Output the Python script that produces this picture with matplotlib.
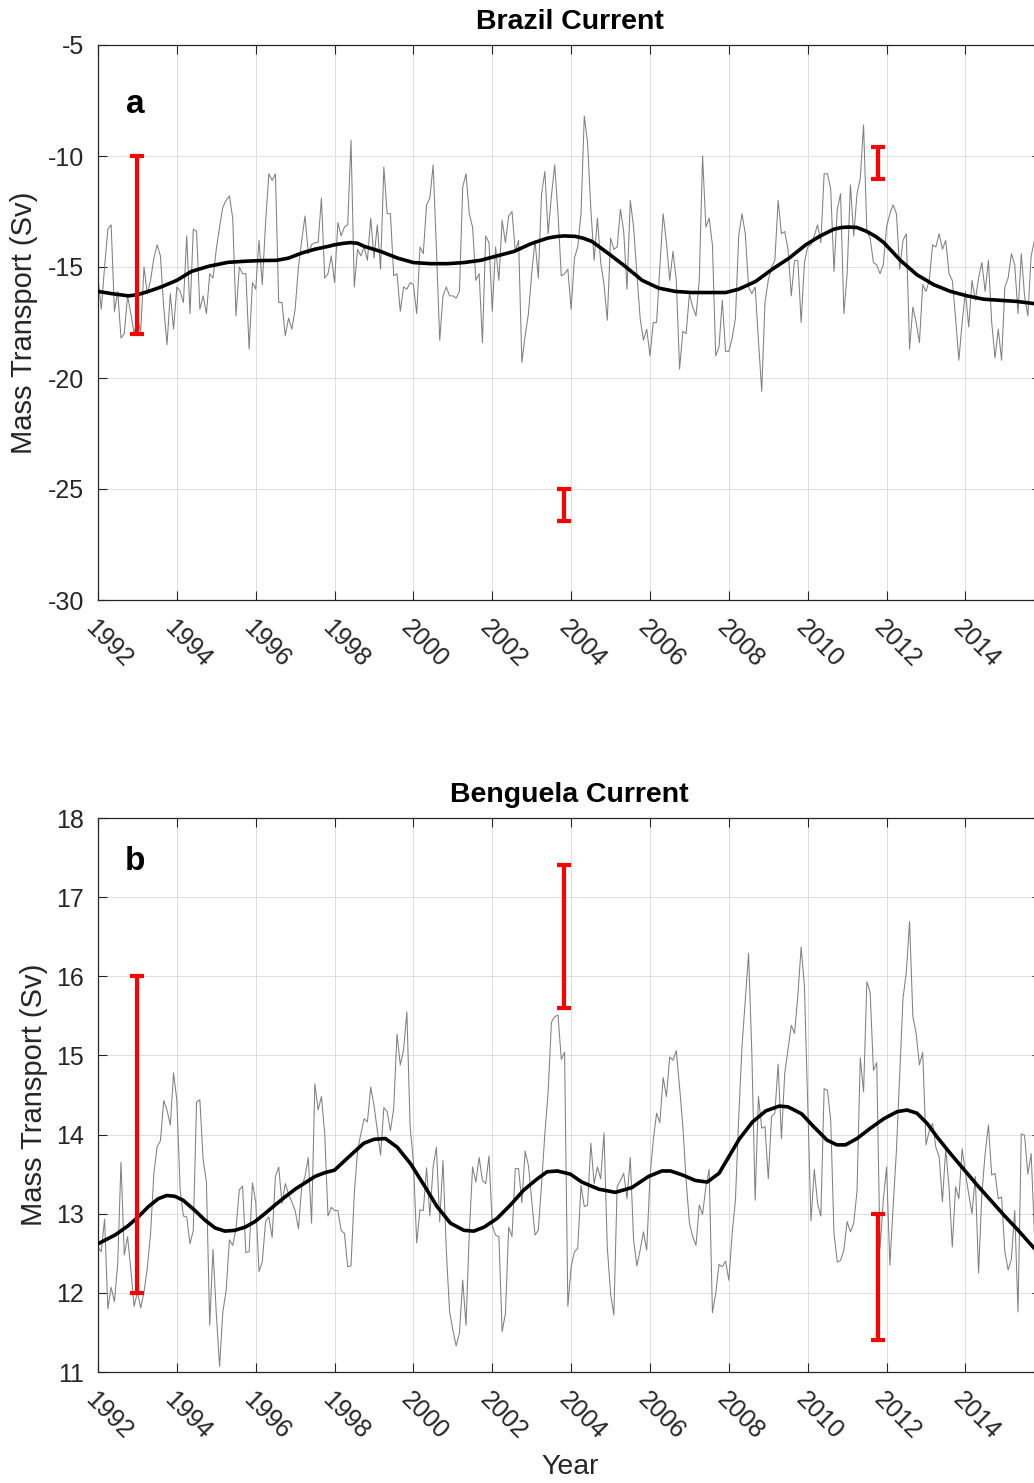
import numpy as np
import matplotlib
matplotlib.use('Agg')
import matplotlib.pyplot as plt

plt.rcParams['font.family'] = ['Liberation Sans', 'DejaVu Sans']

# ---------------- data ----------------
start_year = 1992
n_months = 288

brazil_monthly = [
    -15.5, -16.9, -15.0, -13.3, -13.1, -17.0, -16.1, -18.2, -18.0, -16.3, -17.1, -18.0,
    -17.3, -17.9, -15.0, -16.2, -15.6, -14.6, -14.0, -14.5, -16.8, -18.5, -16.2, -17.8,
    -15.9, -16.1, -16.6, -13.6, -17.1, -13.3, -13.4, -16.9, -16.3, -17.1, -15.3, -15.5,
    -14.2, -13.2, -12.3, -12.0, -11.8, -12.8, -17.2, -15.0, -15.3, -15.3, -18.7, -15.7,
    -16.0, -13.8, -15.8, -13.0, -10.8, -11.1, -10.8, -16.6, -16.6, -18.1, -17.3, -17.8,
    -16.9, -15.0, -13.8, -12.7, -14.4, -14.0, -13.9, -13.9, -11.9, -15.5, -15.3, -14.5,
    -15.7, -13.0, -13.6, -13.2, -13.1, -9.3, -15.9, -14.2, -14.5, -14.1, -14.7, -12.8,
    -14.6, -13.1, -15.1, -10.5, -12.6, -12.6, -15.4, -15.3, -17.0, -15.9, -16.0, -15.7,
    -15.8, -17.1, -14.1, -14.4, -12.2, -11.9, -10.4, -14.2, -18.3, -16.3, -15.9, -16.3,
    -16.3, -16.4, -16.1, -11.4, -10.8, -12.6, -13.2, -15.6, -15.3, -18.4, -13.6, -13.9,
    -17.0, -14.1, -15.6, -12.9, -13.9, -12.7, -12.5, -14.3, -13.8, -19.3, -18.1, -17.1,
    -15.3, -13.8, -15.5, -11.7, -10.7, -13.5, -11.8, -10.4, -12.6, -15.4, -15.3, -15.1,
    -16.9, -14.6, -14.1, -12.6, -8.2, -9.4, -12.4, -14.7, -12.8, -14.8, -15.8, -17.4,
    -13.7, -14.2, -14.1, -12.4, -13.4, -16.0, -12.0, -13.2, -15.3, -17.3, -18.3, -17.8,
    -19.0, -17.5, -17.5, -15.0, -12.6, -13.9, -15.6, -14.3, -15.6, -19.6, -17.9, -18.0,
    -16.2, -16.8, -17.2, -15.6, -10.0, -13.2, -12.8, -14.0, -19.0, -18.6, -16.5, -18.8,
    -18.8, -18.2, -17.3, -13.6, -12.6, -13.5, -15.9, -16.2, -15.9, -18.3, -20.6, -16.6,
    -15.6, -15.0, -14.7, -12.0, -13.5, -13.4, -14.2, -16.3, -14.7, -14.7, -17.5, -14.8,
    -14.1, -14.0, -13.6, -13.1, -13.9, -10.8, -10.8, -11.5, -15.2, -12.4, -11.7, -17.1,
    -15.3, -11.3, -13.6, -11.7, -11.0, -8.6, -13.4, -13.7, -14.8, -14.9, -15.3, -14.9,
    -13.2, -12.6, -12.2, -12.6, -15.1, -13.8, -13.5, -18.7, -16.8, -17.5, -18.4, -15.8,
    -16.1, -15.6, -14.0, -14.1, -13.5, -14.2, -13.8, -15.3, -15.6, -17.3, -19.2, -17.5,
    -16.1, -17.7, -15.6, -16.5, -15.5, -14.8, -16.1, -14.7, -17.5, -19.1, -17.8, -19.2,
    -15.9, -15.5, -14.4, -14.9, -17.1, -14.4, -16.3, -17.2, -14.5, -13.8, -14.2, -15.0,
]

benguela_monthly = [
    12.58, 12.52, 12.93, 11.80, 12.07, 11.89, 12.37, 13.65, 12.48, 12.71, 12.29, 11.83,
    12.01, 11.81, 12.01, 12.31, 12.75, 13.51, 13.85, 13.92, 14.43, 14.31, 14.12, 14.78,
    14.43, 13.30, 12.97, 12.96, 12.62, 12.79, 14.41, 14.44, 13.68, 13.40, 11.59, 12.55,
    11.74, 11.07, 11.76, 12.03, 12.67, 12.60, 12.81, 13.30, 13.35, 12.51, 12.52, 13.39,
    13.15, 12.27, 12.39, 12.90, 12.96, 12.70, 13.47, 13.59, 13.13, 13.38, 13.25, 13.15,
    13.04, 12.81, 13.34, 13.47, 13.71, 12.88, 14.64, 14.31, 14.48, 14.01, 12.97, 13.08,
    13.04, 13.04, 12.79, 12.75, 12.33, 12.34, 13.25, 13.80, 14.01, 14.20, 14.16, 14.60,
    14.37, 14.05, 13.74, 14.34, 14.29, 14.05, 14.33, 15.27, 14.88, 15.07, 15.55, 14.10,
    13.65, 12.63, 13.05, 13.04, 13.58, 12.97, 13.59, 13.84, 12.90, 13.67, 12.54, 11.76,
    11.53, 11.33, 11.49, 12.16, 11.59, 12.75, 13.59, 13.40, 13.71, 13.42, 13.38, 13.73,
    12.85, 12.73, 12.71, 11.51, 11.74, 12.83, 12.71, 13.57, 13.57, 13.14, 13.79, 13.61,
    13.17, 12.73, 12.79, 13.38, 14.01, 14.54, 15.42, 15.49, 15.51, 14.95, 15.04, 11.83,
    12.33, 12.52, 12.56, 13.36, 13.09, 13.11, 13.89, 13.38, 13.59, 13.44, 14.02, 12.58,
    11.99, 11.72, 13.34, 13.42, 13.51, 13.19, 13.71, 12.67, 12.34, 12.54, 12.77, 12.54,
    13.47, 13.93, 14.27, 14.15, 14.72, 14.48, 14.98, 14.94, 15.06, 14.60, 14.10, 13.42,
    12.88, 12.71, 12.60, 13.11, 12.99, 13.34, 13.56, 11.75, 11.99, 12.36, 12.33, 12.40,
    12.16, 12.75, 13.17, 14.22, 15.11, 15.70, 16.29, 15.02, 13.17, 14.48, 14.08, 14.10,
    13.44, 14.23, 14.27, 14.89, 13.95, 14.77, 15.07, 15.38, 15.28, 15.76, 16.37, 15.87,
    14.40, 12.91, 13.56, 13.13, 12.97, 14.58, 14.56, 14.18, 12.75, 12.39, 12.41, 12.54,
    12.90, 12.77, 12.88, 13.28, 14.97, 14.54, 15.93, 15.80, 14.81, 14.91, 12.56, 13.17,
    13.59, 12.35, 13.09, 13.80, 14.77, 15.72, 16.05, 16.69, 15.49, 15.28, 14.88, 15.04,
    13.87, 14.05, 14.14, 13.84, 13.72, 13.15, 13.82, 13.34, 12.58, 13.34, 13.19, 13.82,
    13.51, 13.25, 13.00, 13.47, 12.25, 13.25, 13.76, 14.12, 13.49, 13.51, 13.19, 13.21,
    12.52, 12.29, 12.43, 13.04, 11.76, 14.01, 13.99, 13.50, 13.76, 12.75, 13.10, 12.90,
]

brazil_smooth_t = [1992.0, 1992.35, 1992.77, 1993.0, 1993.28, 1993.6, 1994.0, 1994.37,
                   1994.8, 1995.3, 1995.73, 1996.15, 1996.53, 1996.83, 1997.17, 1997.5,
                   1997.84, 1998.0, 1998.2, 1998.4, 1998.58, 1998.75, 1999.17, 1999.6,
                   2000.0, 2000.43, 2000.86, 2001.28, 2001.7, 2002.12, 2002.55, 2002.97,
                   2003.2, 2003.4, 2003.62, 2003.82, 2004.1, 2004.3, 2004.53, 2004.95,
                   2005.37, 2005.8, 2006.22, 2006.64, 2007.06, 2007.5, 2007.92, 2008.25,
                   2008.68, 2009.1, 2009.53, 2009.95, 2010.32, 2010.66, 2010.86, 2011.04,
                   2011.25, 2011.5, 2011.72, 2011.93, 2012.35, 2012.77, 2013.2, 2013.62,
                   2014.04, 2014.46, 2014.88, 2015.3, 2015.75, 2015.92]
brazil_smooth = [-16.1, -16.2, -16.3, -16.25, -16.1, -15.9, -15.6, -15.2,
                 -14.97, -14.79, -14.74, -14.71, -14.7, -14.6, -14.37, -14.2,
                 -14.07, -14.0, -13.94, -13.9, -13.93, -14.07, -14.3, -14.6,
                 -14.8, -14.85, -14.85, -14.8, -14.7, -14.5, -14.3, -13.96,
                 -13.82, -13.7, -13.63, -13.6, -13.62, -13.7, -13.85, -14.4,
                 -14.97, -15.6, -15.95, -16.1, -16.15, -16.15, -16.15, -16.0,
                 -15.65, -15.1, -14.6, -14.0, -13.6, -13.3, -13.22, -13.2,
                 -13.22, -13.4, -13.62, -13.9, -14.7, -15.35, -15.8, -16.1,
                 -16.3, -16.45, -16.5, -16.55, -16.65, -16.7]

benguela_smooth_t = [1992.0, 1992.43, 1992.77, 1993.02, 1993.28, 1993.53, 1993.74, 1993.95,
                     1994.16, 1994.46, 1994.71, 1994.97, 1995.22, 1995.47, 1995.73, 1995.98,
                     1996.23, 1996.49, 1996.74, 1997.0, 1997.25, 1997.5, 1997.76, 1998.0,
                     1998.32, 1998.74, 1999.0, 1999.29, 1999.59, 1999.93, 2000.27, 2000.6,
                     2000.94, 2001.28, 2001.53, 2001.79, 2002.12, 2002.46, 2002.8, 2003.14,
                     2003.39, 2003.65, 2003.98, 2004.27, 2004.7, 2005.12, 2005.54, 2005.96,
                     2006.3, 2006.52, 2006.82, 2007.15, 2007.45, 2007.75, 2008.0, 2008.26,
                     2008.6, 2008.94, 2009.28, 2009.5, 2009.7, 2009.85, 2010.0, 2010.15,
                     2010.49, 2010.74, 2010.96, 2011.25, 2011.59, 2011.93, 2012.27, 2012.52,
                     2012.77, 2013.03, 2013.28, 2013.62, 2013.96, 2014.3, 2014.64, 2014.98,
                     2015.32, 2015.75, 2015.92]
benguela_smooth = [12.62, 12.73, 12.85, 12.96, 13.09, 13.19, 13.23, 13.22,
                   13.17, 13.04, 12.92, 12.82, 12.78, 12.79, 12.83, 12.90,
                   13.00, 13.11, 13.21, 13.31, 13.39, 13.47, 13.52, 13.55,
                   13.70, 13.89, 13.94, 13.95, 13.84, 13.63, 13.36, 13.09,
                   12.88, 12.79, 12.78, 12.83, 12.94, 13.11, 13.30, 13.44,
                   13.53, 13.54, 13.50, 13.40, 13.31, 13.27, 13.33, 13.47,
                   13.54, 13.54, 13.49, 13.42, 13.40, 13.51, 13.72, 13.94,
                   14.16, 14.30, 14.36, 14.35, 14.30, 14.26, 14.18, 14.10,
                   13.93, 13.87, 13.87, 13.95, 14.08, 14.20, 14.29, 14.31,
                   14.27, 14.14, 13.97, 13.76, 13.56, 13.36, 13.17, 12.98,
                   12.80, 12.56, 12.48]

err_x = [1993.0, 2003.83, 2011.77]
brazil_err_low = [-18.0, -26.43, -11.05]
brazil_err_high = [-10.0, -25.0, -9.6]
benguela_err_low = [12.0, 15.6, 11.4]
benguela_err_high = [16.0, 17.4, 13.0]

xtick_years = [1992, 1994, 1996, 1998, 2000, 2002, 2004, 2006, 2008, 2010, 2012, 2014]
brazil_yticks = [-30, -25, -20, -15, -10, -5]
benguela_yticks = [11, 12, 13, 14, 15, 16, 17, 18]

# ---------------- figure ----------------
W, H = 1034, 1483
fig = plt.figure(figsize=(W / 100, H / 100), dpi=100)
axA = fig.add_axes([98 / W, 1 - 600 / H, 943 / W, 555 / H])
axB = fig.add_axes([98 / W, 1 - 1372 / H, 943 / W, 554 / H])

t = start_year + np.arange(n_months) / 12.0
dark = '#262626'


def style(ax, yticks):
    ax.set_xlim(start_year, start_year + (n_months - 1) / 12.0)
    ax.set_ylim(yticks[0], yticks[-1])
    ax.set_xticks(xtick_years)
    ax.set_xticklabels([str(y) for y in xtick_years], rotation=-45, ha='left',
                       va='top', rotation_mode='anchor')
    ax.set_yticks(yticks)
    ax.set_yticklabels([str(v) for v in yticks])
    ax.tick_params(axis='both', direction='in', length=6.8, width=0.8, top=True,
                   right=True, labelsize=18, colors=dark)
    ax.tick_params(axis='x', pad=11)
    ax.tick_params(axis='y', pad=10)
    ax.grid(True, color='#dedede', linewidth=0.7)
    ax.set_axisbelow(True)
    for s in ax.spines.values():
        s.set_color(dark)
        s.set_linewidth(0.9)


def draw_err(ax, lows, highs):
    lows = np.array(lows)
    highs = np.array(highs)
    mid = (lows + highs) / 2
    half = (highs - lows) / 2
    ax.errorbar(err_x, mid, yerr=half, fmt='none', ecolor='#ff0000',
                elinewidth=3.0, capsize=4.8, capthick=3.0, zorder=5)


for ax, monthly, st, sv, yt, lo, hi in [
        (axA, brazil_monthly, brazil_smooth_t, brazil_smooth, brazil_yticks,
         brazil_err_low, brazil_err_high),
        (axB, benguela_monthly, benguela_smooth_t, benguela_smooth, benguela_yticks,
         benguela_err_low, benguela_err_high)]:
    ax.plot(t, monthly, color='#808080', linewidth=0.75, zorder=2)
    ax.plot(st, sv, color='black', linewidth=2.6, zorder=3, solid_joinstyle='round')
    draw_err(ax, lo, hi)
    style(ax, yt)
    ax.set_ylabel('Mass Transport (Sv)', fontsize=21, color=dark)

axA.yaxis.set_label_coords((38 - 98) / 943, 0.5)
axB.yaxis.set_label_coords((48 - 98) / 943, 0.5)

axA.text(0.5, 1 + 23 / 555, 'Brazil Current', transform=axA.transAxes,
         ha='center', va='center', fontsize=20.5, fontweight='bold', color='black')
axB.text(0.5, 1 + 23 / 554, 'Benguela Current', transform=axB.transAxes,
         ha='center', va='center', fontsize=20.5, fontweight='bold', color='black')

axA.text((135 - 98) / 943, 1 - (112.7 - 45) / 555, 'a', transform=axA.transAxes,
         ha='center', va='baseline', fontsize=24, fontweight='bold', color='black')
axB.text((135 - 98) / 943, 1 - (870 - 818) / 554, 'b', transform=axB.transAxes,
         ha='center', va='baseline', fontsize=24, fontweight='bold', color='black')

fig.text(570 / W, 1 - 1467 / H, 'Year', ha='center', va='center',
         fontsize=20.5, color=dark)

fig.savefig('out.png', dpi=100)
